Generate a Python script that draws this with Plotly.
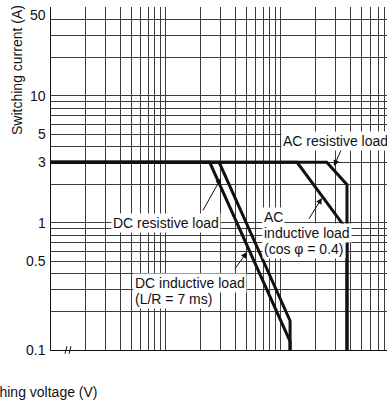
import plotly.graph_objects as go
import math

# ---- data ----
dc_inductive_v = [1, 24, 120, 120]
dc_inductive_i = [3, 3, 0.117, 0.1]
dc_resistive_v = [1, 29, 120, 120]
dc_resistive_i = [3, 3, 0.17, 0.1]
ac_inductive_v = [1, 138, 375, 375]
ac_inductive_i = [3, 3, 0.88, 0.1]
ac_resistive_v = [1, 250, 375, 375]
ac_resistive_i = [3, 3, 2.0, 0.1]

x_grid = [1, 2, 3, 4, 5, 6, 7, 8, 9, 10, 20, 30, 40, 50, 60, 70, 80, 90,
          100, 200, 300, 400, 500, 600, 700, 800]
y_grid = [0.1, 0.2, 0.3, 0.4, 0.5, 0.6, 0.7, 0.8, 0.9, 1, 2, 3, 4, 5, 6, 7, 8, 9,
          10, 20, 30, 40, 50]
y_labels = {0.1: "0.1", 0.5: "0.5", 1: "1", 3: "3", 5: "5", 10: "10"}

# label anchor points (V, A) and leader arrows (tail V, tail A, head V, head A)
arrows = [
    (339, 3.88, 289, 2.8),     # AC resistive
    (172, 1.05, 227, 1.57),    # AC inductive
    (20.6, 1.22, 30.1, 2.25),  # DC resistive
    (39, 0.425, 50.6, 0.59),   # DC inductive
]

FONT = "Liberation Sans, Arial, sans-serif"
INK = "#111111"
GRID = "#3c3c3c"

fig = go.Figure()
for vs, cs in [(dc_inductive_v, dc_inductive_i), (dc_resistive_v, dc_resistive_i),
               (ac_inductive_v, ac_inductive_i), (ac_resistive_v, ac_resistive_i)]:
    fig.add_trace(go.Scatter(x=vs, y=cs, mode="lines",
                             line=dict(color=INK, width=3), showlegend=False,
                             hoverinfo="skip"))

L = math.log10
ann = []
for tv, ti, hv, hi in arrows:
    ann.append(dict(x=L(hv), y=L(hi), ax=L(tv), ay=L(ti), axref="x", ayref="y",
                    xref="x", yref="y", text="", showarrow=True, arrowhead=2,
                    arrowsize=1.2, arrowwidth=1, arrowcolor=INK))

tf = dict(family=FONT, size=14, color=INK)
ann.append(dict(x=L(100), y=L(4.4), xref="x", yref="y", text="AC resistive load",
                showarrow=False, xanchor="left", yanchor="middle", font=tf,
                bgcolor="white", borderpad=1))
ann.append(dict(x=L(10), y=L(1.0), xref="x", yref="y", text="DC resistive load",
                showarrow=False, xanchor="center", yanchor="middle", font=tf,
                bgcolor="white", borderpad=1))
for txt, sh in [("AC", 16), ("inductive load", 0), ("(cos φ = 0.4)", -15.5)]:
    ann.append(dict(x=L(68), y=L(0.827), xref="x", yref="y", text=txt, yshift=sh,
                    showarrow=False, xanchor="left", yanchor="middle", font=tf,
                    bgcolor="white", borderpad=1))
for txt, sh in [("DC inductive load", 8), ("(L/R = 7 ms)", -8)]:
    ann.append(dict(x=L(5.16), y=L(0.291), xref="x", yref="y", text=txt, yshift=sh,
                    showarrow=False, xanchor="left", yanchor="middle", font=tf,
                    bgcolor="white", borderpad=1))

# y tick labels
for v, t in list(y_labels.items()) + [(50, "50")]:
    ann.append(dict(x=0, y=L(v), xref="paper", yref="y", text=t, showarrow=False,
                    xanchor="right", yanchor="middle", xshift=-3,
                    yshift=(-8 if v == 50 else 0), font=tf))

# axis titles
ann.append(dict(x=(17 - 51) / 336, y=(350 - 70) / 343, xref="paper", yref="paper",
                text="Switching current (A)", textangle=-90, showarrow=False,
                xanchor="center", yanchor="middle", font=tf))
ann.append(dict(x=(100 - 51) / 336, y=(350 - 392) / 343, xref="paper", yref="paper",
                text="Switching voltage (V)", showarrow=False,
                xanchor="right", yanchor="middle", font=tf))

shapes = []
for px in (66, 70):
    xp = (px - 51) / 336
    shapes.append(dict(type="line", xref="paper", yref="paper",
                       x0=xp - 0.003, x1=xp + 0.003, y0=-0.011, y1=0.011,
                       line=dict(color=INK, width=1)))

fig.update_layout(
    width=387, height=401,
    margin=dict(l=51, r=0, t=7, b=51),
    paper_bgcolor="white", plot_bgcolor="white",
    annotations=ann, shapes=shapes,
    xaxis=dict(type="log", range=[0, 2.922], tickmode="array", tickvals=x_grid,
               showticklabels=False, ticks="", showgrid=True, gridcolor=GRID,
               gridwidth=1, zeroline=False, showline=True, linecolor=INK,
               linewidth=1),
    yaxis=dict(type="log", range=[-1, math.log10(50)], tickmode="array",
               tickvals=y_grid, showticklabels=False, ticks="", showgrid=True,
               gridcolor=GRID, gridwidth=1, zeroline=False, showline=True,
               linecolor=INK, linewidth=1),
)

fig.write_html("out.html")
